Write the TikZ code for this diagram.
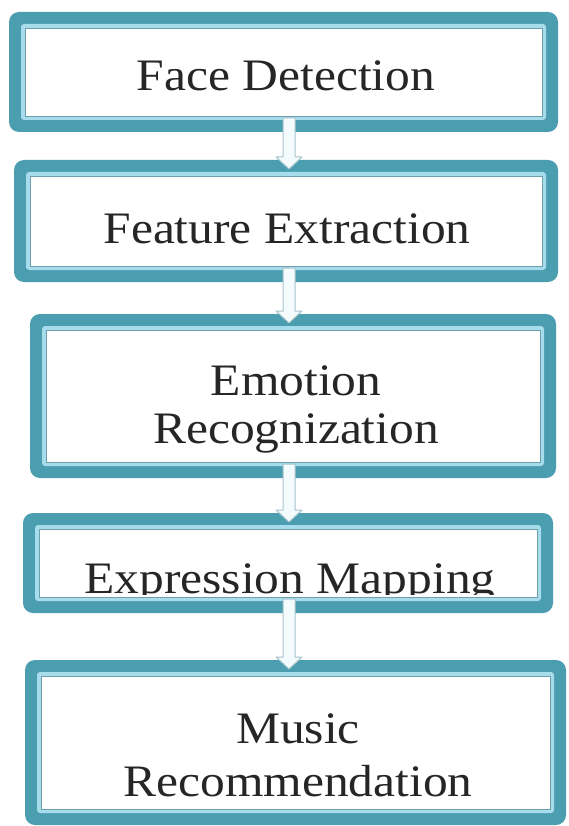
\documentclass[tikz,border=0pt]{standalone}
\usepackage{fontspec}
\setmainfont{Liberation Serif}[FakeStretch=1.1]
\usetikzlibrary{calc}
\definecolor{tealc}{HTML}{4B9DB0}
\definecolor{bandc}{HTML}{A6DCEB}
\definecolor{linec}{HTML}{6E9FAD}
\definecolor{arrline}{HTML}{A8C4CC}
\definecolor{arrfill}{HTML}{F4FBFD}
\definecolor{txtc}{HTML}{262626}
\tikzset{
  outerbox/.style={rectangle, fill=tealc, rounded corners=10pt, inner sep=0pt, outer sep=0pt},
  bandbox/.style={rectangle, fill=bandc, rounded corners=3pt, inner sep=0pt, outer sep=0pt},
  innerbox/.style={rectangle, fill=white, draw=linec, line width=0.8pt, inner sep=0pt, outer sep=0pt},
  stagetext/.style={anchor=base, inner sep=0pt, text=txtc, align=center, font=\fontsize{45}{48}\selectfont},
  blk/.style={fill=arrfill, draw=arrline, line width=1pt, line join=round},
}
\newcommand\stagebox[5]{%
  \node[outerbox, minimum width=#4pt, minimum height=#5pt] (#1) at (#2,#3) {};
  \node[bandbox, minimum width={#4pt-24pt}, minimum height={#5pt-24pt}] (#1l) at (#1) {};
  \node[innerbox, minimum width={#4pt-32pt}, minimum height={#5pt-32pt}] (#1i) at (#1) {};
}
\newcommand\stagearrow[2]{%
  \draw[blk] ($(#1.south -| ax)+(-6,-14)$) -- ($(#2.north -| ax)+(-6,-3)$)
    -- ($(#2.north -| ax)+(-13,-3)$) -- ($(#2.north -| ax)+(0,9)$)
    -- ($(#2.north -| ax)+(13,-3)$) -- ($(#2.north -| ax)+(6,-3)$)
    -- ($(#1.south -| ax)+(6,-14)$) -- cycle;
}
\begin{document}
\begin{tikzpicture}[x=1pt,y=-1pt]
\useasboundingbox[fill=white] (0,0) rectangle (569,826);
\coordinate (ax) at (289,0);

\stagebox{b1}{283.5}{72}{549}{120}
\stagebox{b2}{286}{221}{544}{122}
\stagebox{b3}{293}{396}{526}{164}
\stagebox{b4}{288}{563}{530}{100}
\stagebox{b5}{295.5}{742.5}{541}{165}

\node[stagetext] (t1) at (286,91) {Face Detection};
\node[stagetext] (t2) at (287,243) {Feature Extraction};
\node[stagetext, font=\fontsize{45}{48}\selectfont] (t3) at (296,443) {Emotion\\Recognization};
\begin{scope}
  \clip (b4i.north west) rectangle ($(b4i.south east)+(0,-3)$);
  \node[stagetext] (t4) at (290,593) {Expression Mapping};
\end{scope}
\node[stagetext, font=\fontsize{45}{53}\selectfont] (t5) at (298,796) {Music\\Recommendation};

\stagearrow{b1}{b2}
\stagearrow{b2}{b3}
\stagearrow{b3}{b4}
\stagearrow{b4}{b5}
\end{tikzpicture}
\end{document}
